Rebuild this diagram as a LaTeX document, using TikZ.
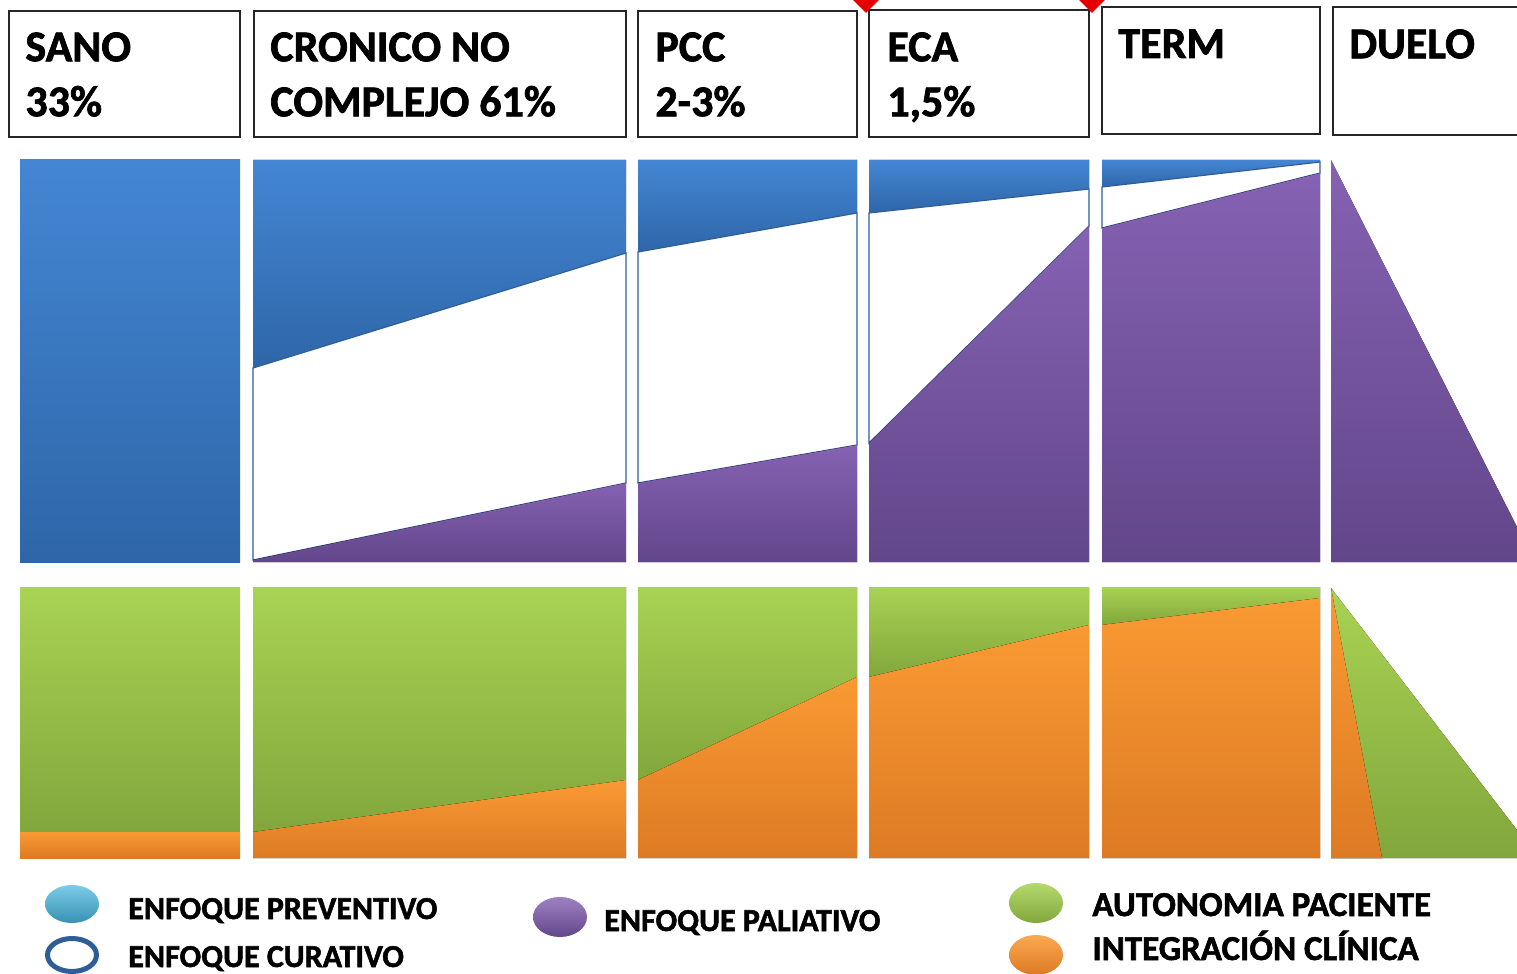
\documentclass[tikz,border=0pt]{standalone}
\usepackage{fontspec}
\setmainfont{Carlito}[BoldFeatures={FakeBold=1.6}]
\usetikzlibrary{shapes.geometric,fit}
\definecolor{prev}{HTML}{4486D4}
\definecolor{prevd}{HTML}{2E66A8}
\definecolor{pal}{HTML}{8562B3}
\definecolor{pald}{HTML}{62468A}
\definecolor{aut}{HTML}{A8D353}
\definecolor{autd}{HTML}{82A63C}
\definecolor{integ}{HTML}{FA9A33}
\definecolor{integd}{HTML}{DD7A24}
\definecolor{cur}{HTML}{2F5E97}
\definecolor{cian}{HTML}{45B6DF}

\begin{document}
\begin{tikzpicture}[x=0.5pt, y=-0.5pt,
  etapa/.style={draw=black!85, line width=1pt, inner sep=0pt},
  titulo/.style={anchor=north west, inner sep=0pt, align=left, font=\fontsize{22}{27.5}\selectfont\bfseries},
  leyenda/.style={anchor=base west, inner sep=0pt, font=\fontsize{16}{19}\selectfont\bfseries},
  leyendag/.style={leyenda, font=\fontsize{17.5}{21}\selectfont\bfseries},
  marca/.style={diamond, fill=red!90!black, minimum size=15pt, inner sep=0pt},
  punto/.style={ellipse, minimum width=27pt, minimum height=19pt, inner sep=0pt},
  preventivo/.style={top color=prev, bottom color=prevd},
  curativo/.style={fill=white, draw=cur, line width=0.6pt},
  paliativo/.style={top color=pal, bottom color=pald},
  autonomia/.style={top color=aut, bottom color=autd},
  integracion/.style={top color=integ, bottom color=integd}]
  \useasboundingbox (0,0) rectangle (1517,974);

  \node[etapa, fit={(9,11) (240,137)}] (sano) {};
  \node[etapa, fit={(254,11) (626,137)}] (cronico) {};
  \node[etapa, fit={(638,11) (857,137)}] (pcc) {};
  \node[etapa, fit={(869,10) (1089,137)}] (eca) {};
  \node[etapa, fit={(1102,7) (1320,134)}] (term) {};
  \node[etapa, fit={(1333,7) (1540,135)}] (duelo) {};
  \node[titulo] (tsano) at (25,32) {SANO\\33\%};
  \node[titulo] (tcronico) at (270,32) {CRONICO NO\\COMPLEJO 61\%};
  \node[titulo] (tpcc) at (655,32) {PCC\\2-3\%};
  \node[titulo] (teca) at (887,32) {ECA\\1,5\%};
  \node[titulo] (tterm) at (1118,29) {TERM};
  \node[titulo] (tduelo) at (1349,29) {DUELO};
  \node[marca] (m1) at (866,-2) {};
  \node[marca] (m2) at (1092,-2) {};

  \fill[preventivo] (20,160) rectangle (240,562);
  \foreach \xa/\xb/\ba/\bb/\pa/\pb in {253/626/368/253/560/483, 638/857/252/213/483/445,
      869/1089/213/189/443/226, 1102/1320/187/162/228/173}{
    \fill[preventivo] (\xa,160) -- (\xb,160) -- (\xb,\bb) -- (\xa,\ba) -- cycle;
    \filldraw[curativo] (\xa,\ba) -- (\xb,\bb) -- (\xb,\pb) -- (\xa,\pa) -- cycle;
    \fill[paliativo] (\xa,\pa) -- (\xb,\pb) -- (\xb,562) -- (\xa,562) -- cycle;
  }
  \fill[paliativo] (1331,160) -- (1517,527) -- (1517,562) -- (1331,562) -- cycle;

  \foreach \xa/\xb/\oa/\ob in {20/240/832/832, 253/626/832/780, 638/857/780/677,
      869/1089/677/625, 1102/1320/625/598}{
    \fill[autonomia] (\xa,587) -- (\xb,587) -- (\xb,\ob) -- (\xa,\oa) -- cycle;
    \fill[integracion] (\xa,\oa) -- (\xb,\ob) -- (\xb,858) -- (\xa,858) -- cycle;
  }
  \fill[autonomia] (1331,588) -- (1517,830) -- (1517,858) -- (1331,858) -- cycle;
  \fill[integracion] (1331,588) -- (1382,858) -- (1331,858) -- cycle;

  \node[punto, top color=cian!70!white, bottom color=cian!80!black] (lprev) at (72,904) {};
  \node[punto, draw=cur, line width=2.5pt, minimum width=24.5pt, minimum height=16.5pt] (lcur) at (72,955) {};
  \node[punto, top color=pal!80!white, bottom color=pald, minimum height=20pt] (lpal) at (560,917) {};
  \node[punto, top color=aut!85!white, bottom color=autd, minimum height=20pt] (laut) at (1036,903) {};
  \node[punto, top color=integ!85!white, bottom color=integd, minimum height=20pt] (lint) at (1036,955) {};
  \node[leyenda] (tprev) at (128,919) {ENFOQUE PREVENTIVO};
  \node[leyenda] (tcur) at (128,967) {ENFOQUE CURATIVO};
  \node[leyenda] (tpal) at (604,931) {ENFOQUE PALIATIVO};
  \node[leyendag] (taut) at (1092,916) {AUTONOMIA PACIENTE};
  \node[leyendag] (tint) at (1092,960) {INTEGRACIÓN CLÍNICA};
\end{tikzpicture}
\end{document}
